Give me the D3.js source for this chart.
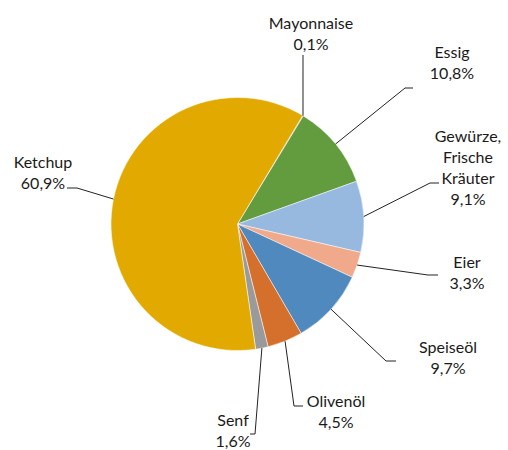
<!DOCTYPE html>
<html><head><meta charset="utf-8">
<script src="https://cdn.jsdelivr.net/npm/d3@7"></script>
<style>body{margin:0;background:#fff}svg{display:block}text{font-family:Lato,"Open Sans",sans-serif;font-size:16px;fill:#1a1a1a}</style>
</head><body><svg id="c" width="508" height="450"></svg>
<script>
const categories = ["Mayonnaise","Essig","Gewürze, Frische Kräuter","Eier","Speiseöl","Olivenöl","Senf","Ketchup"];
const values = [0.1,10.8,9.1,3.3,9.7,4.5,1.6,60.9];
const valueLabels = ["0,1%","10,8%","9,1%","3,3%","9,7%","4,5%","1,6%","60,9%"];
const labelLines = [["Mayonnaise"],["Essig"],["Gewürze,","Frische","Kräuter"],["Eier"],["Speiseöl"],["Olivenöl"],["Senf"],["Ketchup"]];
const colors = ["#6f8fb8","#629c3f","#97b9e0","#f0a98a","#4f89be","#d4702b","#9a9a9a","#e2aa00"];

// layout: label centre x, first-line centre y, elbow point, end point, text anchor
const layout = [
  {x:311,y:24,elbow:[303,55],end:[303,55],anchor:"middle"},
  {x:452,y:53,elbow:[405,88],end:[413,88],anchor:"middle"},
  {x:468,y:137,elbow:[430,183],end:[439,183],anchor:"middle"},
  {x:467,y:263,elbow:[428,275],end:[438,275],anchor:"middle"},
  {x:448,y:348,elbow:[386,361],end:[396,361],anchor:"middle"},
  {x:336,y:402,elbow:[294,406],end:[303,406],anchor:"middle"},
  {x:233,y:420.5,elbow:[255,434],end:[250,434],anchor:"middle"},
  {x:43,y:163,elbow:[77,188],end:[67,188],anchor:"middle"}
];
const lineH = 21;
const cx = 237.5, cy = 224, r = 126.5;
const start = 31*Math.PI/180;

const svg = d3.select("#c");
const g = svg.append("g").attr("transform",`translate(${cx},${cy})`);
const pie = d3.pie().sort(null).value(d=>d).startAngle(start).endAngle(start+2*Math.PI);
const arcs = pie(values);
const arc = d3.arc().innerRadius(0).outerRadius(r);
g.selectAll("path").data(arcs).join("path")
  .attr("d",arc).attr("fill",(d,i)=>colors[i]).attr("stroke","#fff").attr("stroke-width",0.5);

// leader lines
arcs.forEach((a,i)=>{
  const mid = (a.startAngle+a.endAngle)/2;
  const px = cx + r*Math.sin(mid), py = cy - r*Math.cos(mid);
  const L = layout[i];
  svg.append("polyline")
    .attr("points",[[px,py],L.elbow,L.end].map(p=>p.join(",")).join(" "))
    .attr("fill","none").attr("stroke","#222").attr("stroke-width",1);
});

// labels
labelLines.forEach((lines,i)=>{
  const L = layout[i];
  const t = svg.append("text").attr("text-anchor",L.anchor);
  lines.concat([valueLabels[i]]).forEach((s,k)=>{
    t.append("tspan").attr("x",L.x).attr("y",L.y+k*lineH).attr("dy","0.33em").text(s);
  });
});
</script></body></html>
